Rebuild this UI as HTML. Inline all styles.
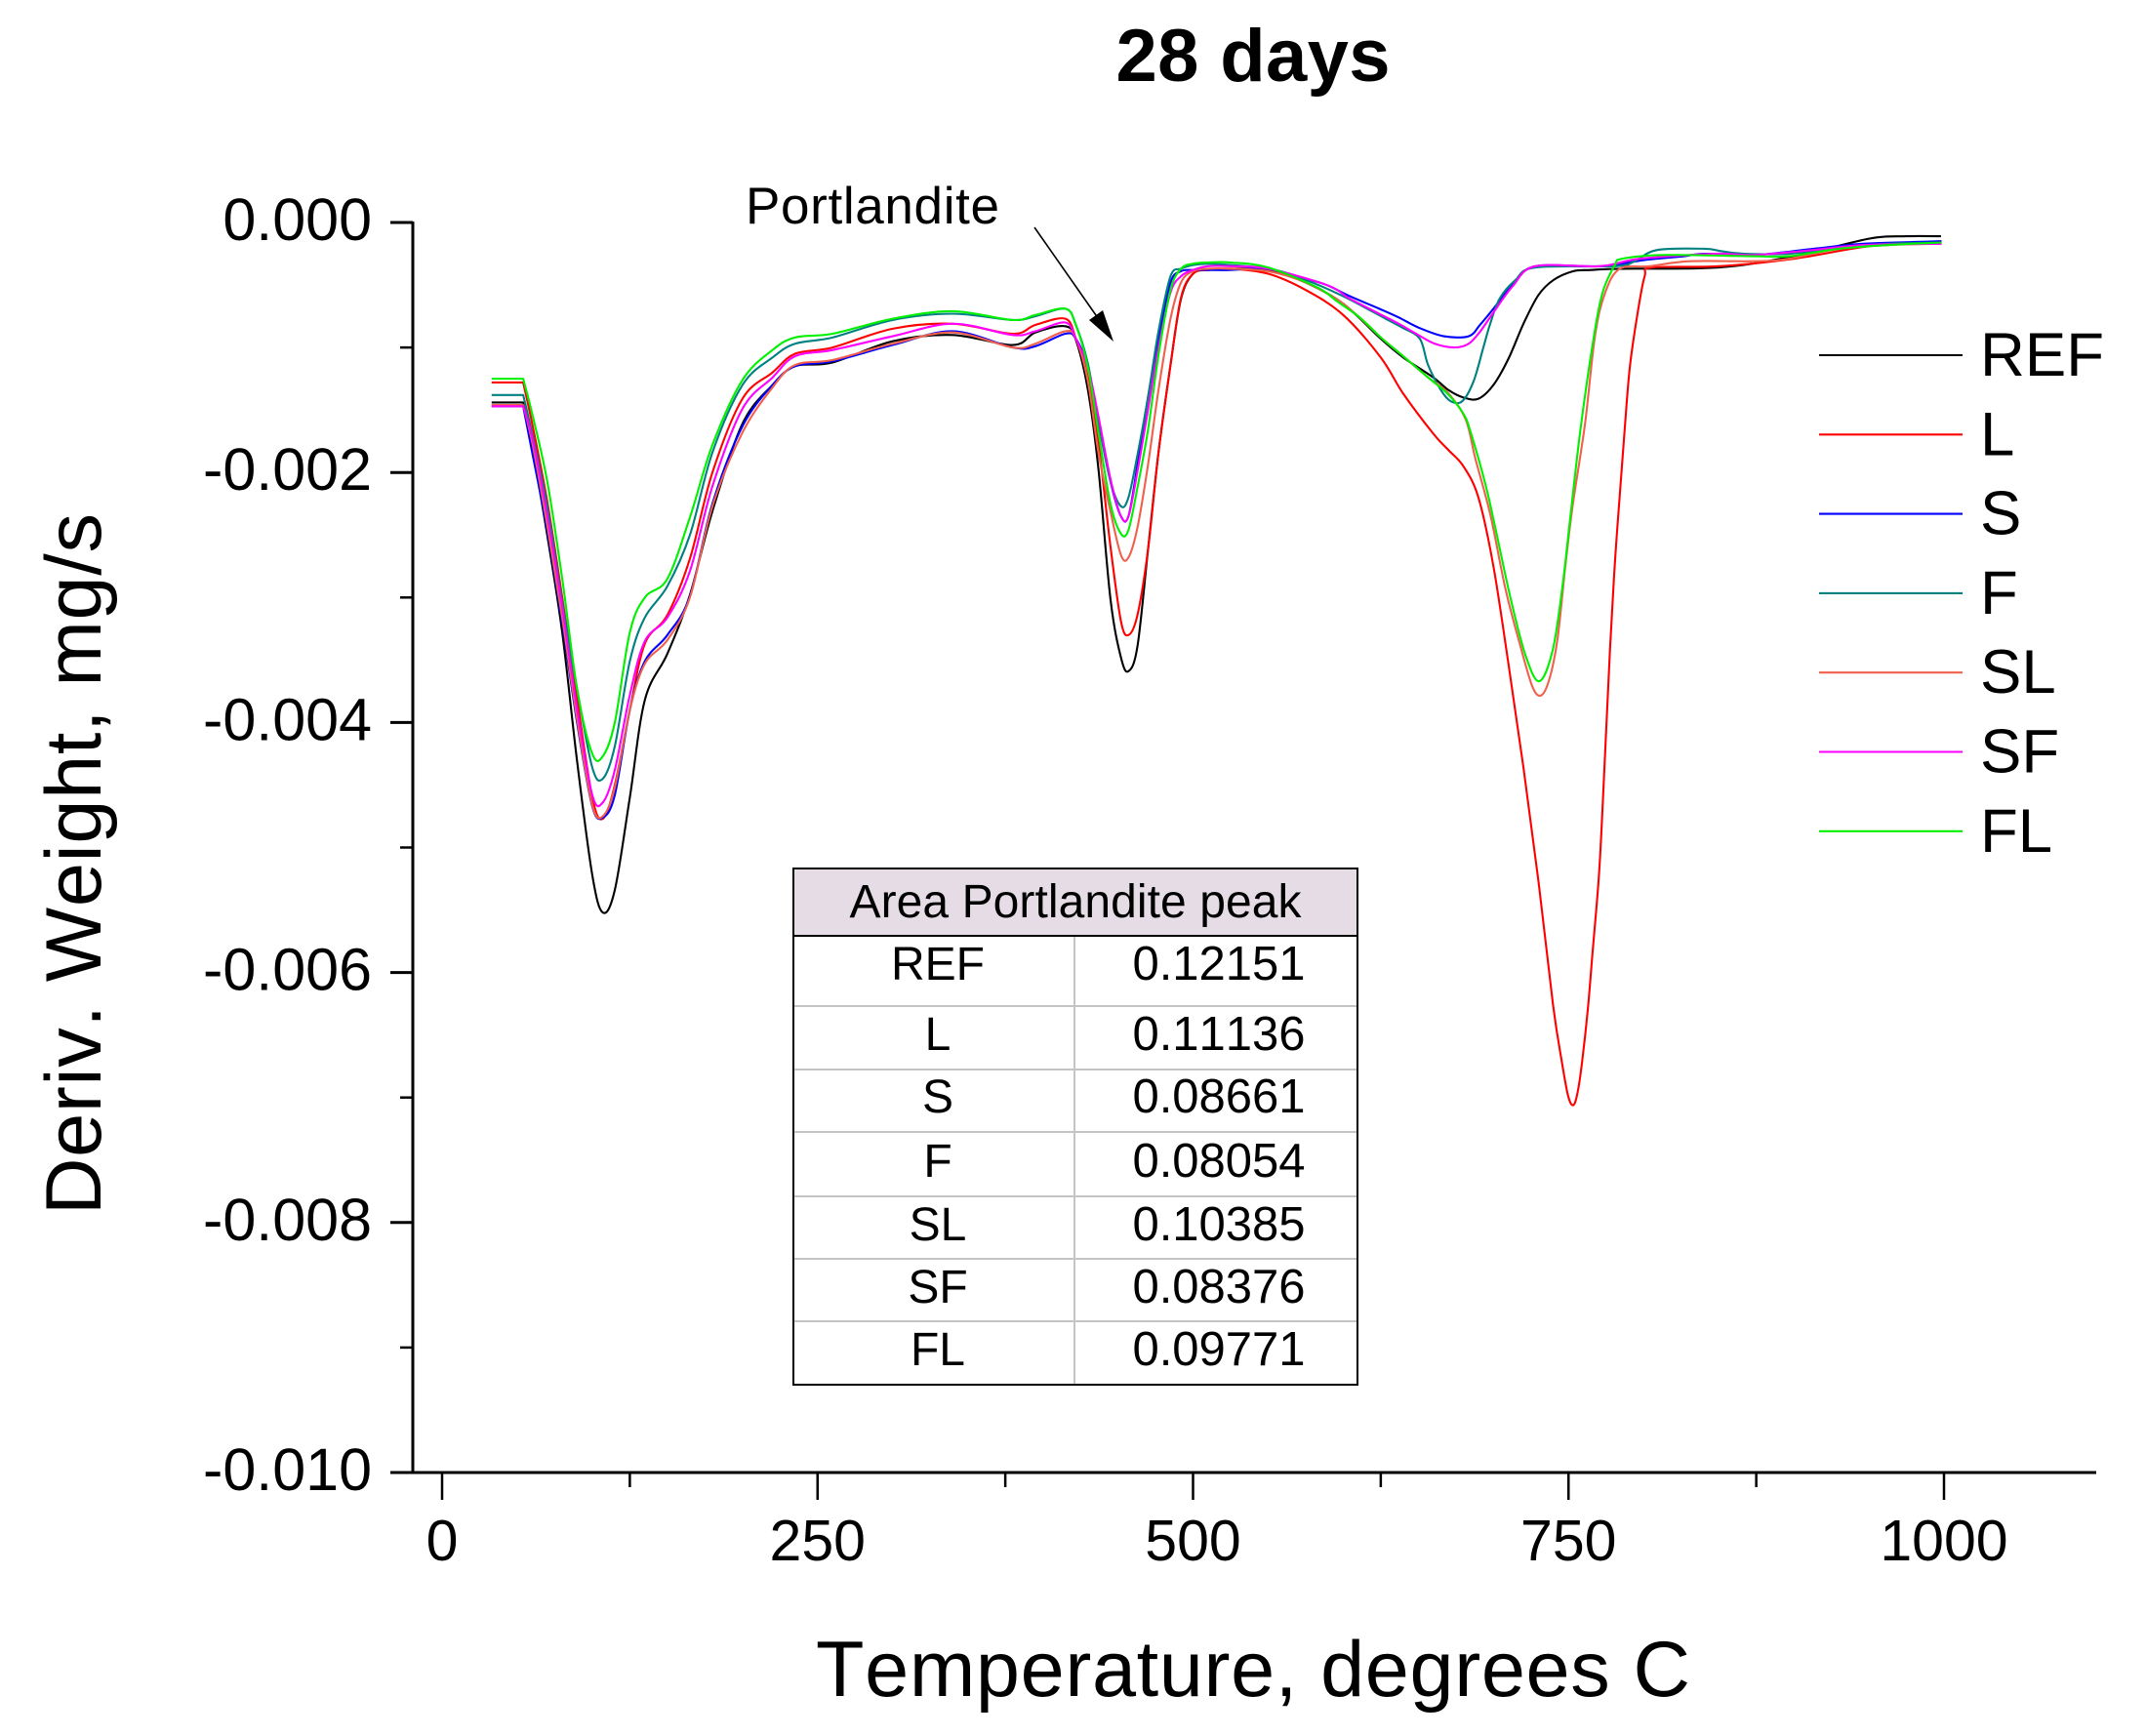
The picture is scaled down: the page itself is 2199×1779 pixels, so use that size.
<!DOCTYPE html>
<html lang="en">
<head>
<meta charset="utf-8">
<title>28 days</title>
<style>
html,body{margin:0;padding:0;background:#fff;}
svg{display:block;font-family:"Liberation Sans",sans-serif;fill:#000;font-kerning:none;}
</style>
</head>
<body>
<svg id="chart" width="2199" height="1779" viewBox="0 0 2199 1779" xmlns="http://www.w3.org/2000/svg">
<rect x="0" y="0" width="2199" height="1779" fill="#fff"/>
<text x="1284" y="83" font-size="76" font-weight="bold" text-anchor="middle" textLength="281">28 days</text>
<text x="1284" y="1738" font-size="81" text-anchor="middle" textLength="896">Temperature, degrees C</text>
<text transform="translate(103,1245) rotate(-90)" font-size="81" textLength="719">Deriv. Weight, mg/s</text>
<text x="764" y="229" font-size="53" textLength="260">Portlandite</text>
<line x1="1060" y1="233" x2="1130" y2="333" stroke="#000" stroke-width="1.6"/>
<polygon points="1141,350 1116,328 1130,318" fill="#000"/>
<g id="axes"></g>
<g id="series"></g>
<g id="legend"></g>
<g id="table"></g>
</svg>
<script>
// Temperature (deg C) shared by all series up to 550 deg C
const tempsShared = [33,54,60,70,80,90,100,107,115,125,135,150,165,180,200,220,235,260,300,340,380,395,415,422,430,437,445,452,457,463,470,477,485,492,500,510,525,550];

// Derivative weight in 10^-3 mg/s
const refShared = [-1.44,-1.44,-1.80,-2.50,-3.28,-4.32,-5.22,-5.52,-5.34,-4.60,-3.82,-3.45,-2.98,-2.31,-1.61,-1.30,-1.15,-1.12,-0.95,-0.90,-0.98,-0.88,-0.83,-0.94,-1.34,-1.97,-3.01,-3.48,-3.59,-3.39,-2.62,-1.84,-1.14,-0.61,-0.41,-0.38,-0.37,-0.38];
const refTailTemps = [575,600,625,640,660,670,680,690,700,710,720,730,740,753,765,785,850,900,950,975,998];
const refTailValues = [-0.48,-0.65,-0.93,-1.08,-1.24,-1.34,-1.40,-1.41,-1.30,-1.09,-0.81,-0.58,-0.46,-0.39,-0.38,-0.37,-0.36,-0.27,-0.13,-0.11,-0.11];

const lShared = [-1.28,-1.28,-1.61,-2.23,-3.00,-3.82,-4.60,-4.77,-4.50,-3.90,-3.37,-3.14,-2.69,-2.00,-1.41,-1.20,-1.05,-1.00,-0.85,-0.81,-0.89,-0.82,-0.77,-0.93,-1.24,-1.76,-2.59,-3.19,-3.30,-3.14,-2.62,-1.84,-1.14,-0.60,-0.41,-0.38,-0.37,-0.41];
const lTailTemps = [575,600,625,640,660,670,680,690,700,710,720,730,739.7,745.5,749.8,753.3,756.2,759.1,762.9,765.8,770.1,772.6,777.6,780.9,784.2,787.5,790.8,795.8,800.7,805.7,850,900,950,998];
const lTailValues = [-0.54,-0.74,-1.08,-1.37,-1.69,-1.82,-1.95,-2.20,-2.75,-3.53,-4.36,-5.27,-6.26,-6.71,-6.99,-7.06,-6.95,-6.71,-6.29,-5.87,-5.25,-4.70,-3.42,-2.72,-2.17,-1.64,-1.16,-0.74,-0.43,-0.36,-0.35,-0.29,-0.19,-0.15];

const sShared = [-1.47,-1.47,-1.84,-2.46,-3.20,-4.01,-4.67,-4.76,-4.58,-3.90,-3.51,-3.30,-2.99,-2.25,-1.63,-1.30,-1.15,-1.11,-0.98,-0.87,-1.00,-0.99,-0.89,-0.93,-1.16,-1.58,-2.07,-2.35,-2.35,-1.94,-1.40,-0.93,-0.48,-0.39,-0.38,-0.38,-0.38,-0.37];
const sTailTemps = [575,589,604.5,624,637,650,667,683.5,691,700,712.8,727.9,771,800.7,827,840.5,873.6,913.3,946.4,998.4];
const sTailValues = [-0.45,-0.50,-0.59,-0.69,-0.76,-0.84,-0.91,-0.91,-0.82,-0.69,-0.50,-0.35,-0.35,-0.30,-0.27,-0.25,-0.26,-0.21,-0.17,-0.15];

const fShared = [-1.38,-1.38,-1.69,-2.27,-3.04,-3.74,-4.36,-4.45,-4.19,-3.51,-3.16,-2.91,-2.50,-1.84,-1.30,-1.08,-0.97,-0.92,-0.78,-0.73,-0.78,-0.75,-0.69,-0.82,-1.13,-1.60,-2.07,-2.27,-2.20,-1.86,-1.40,-0.87,-0.43,-0.37,-0.34,-0.33,-0.34,-0.37];
const fTailTemps = [575,600,628.3,639.2,651,656.5,665,671.6,679.2,686.8,693.3,697.6,704.1,714.7,728,781,794,809,840.5,852,867,897,930,963,998.4];
const fTailValues = [-0.46,-0.59,-0.77,-0.84,-0.93,-1.14,-1.34,-1.43,-1.43,-1.27,-1.00,-0.82,-0.61,-0.46,-0.36,-0.35,-0.31,-0.22,-0.21,-0.23,-0.25,-0.25,-0.20,-0.17,-0.16];

const slShared = [-1.46,-1.46,-1.76,-2.42,-3.16,-3.98,-4.66,-4.75,-4.52,-3.90,-3.53,-3.34,-3.00,-2.27,-1.68,-1.32,-1.14,-1.10,-0.97,-0.88,-1.00,-0.97,-0.87,-0.93,-1.27,-1.84,-2.31,-2.66,-2.68,-2.44,-1.94,-1.34,-0.77,-0.48,-0.39,-0.37,-0.37,-0.39];
const slTailTemps = [575,600,626,639,656.5,669.5,681.5,688,698,708,718,726.2,732.2,737.8,742.8,747.8,752.7,761,767.6,774.3,784.2,804,830.5,873.6,896.8,930,963,998.4];
const slTailValues = [-0.48,-0.65,-0.93,-1.06,-1.24,-1.36,-1.575,-1.89,-2.34,-2.93,-3.39,-3.72,-3.78,-3.63,-3.32,-2.76,-2.27,-1.61,-0.91,-0.565,-0.37,-0.35,-0.31,-0.31,-0.29,-0.21,-0.18,-0.17];

const sfShared = [-1.47,-1.47,-1.72,-2.34,-3.08,-3.90,-4.58,-4.64,-4.38,-3.78,-3.35,-3.16,-2.79,-2.11,-1.49,-1.24,-1.07,-1.02,-0.91,-0.81,-0.90,-0.87,-0.80,-0.93,-1.16,-1.55,-2.05,-2.35,-2.35,-1.99,-1.50,-1.00,-0.56,-0.43,-0.38,-0.35,-0.35,-0.37];
const sfTailTemps = [589,604.5,624,637,650,661,674,683.5,691,700,712.8,727.9,771,797.4,847,873.6,913,946.4,998.4];
const sfTailValues = [-0.50,-0.61,-0.73,-0.81,-0.90,-0.97,-1.00,-0.97,-0.875,-0.72,-0.51,-0.35,-0.35,-0.29,-0.25,-0.26,-0.22,-0.18,-0.17];

const flShared = [-1.25,-1.25,-1.53,-2.07,-2.85,-3.74,-4.25,-4.27,-4.00,-3.28,-3.00,-2.85,-2.36,-1.78,-1.26,-1.02,-0.92,-0.89,-0.77,-0.71,-0.78,-0.74,-0.69,-0.82,-1.16,-1.68,-2.25,-2.49,-2.46,-2.12,-1.66,-1.06,-0.54,-0.37,-0.33,-0.32,-0.32,-0.36];
const flTailTemps = [582.8,595.8,611,626,639,656.5,669.5,680,684.9,694.8,701.4,711.3,721.3,730.5,739.5,746.1,751,757.7,766,772.6,780.9,785.8,814,873.6,896.8,930,963,998.4];
const flTailValues = [-0.52,-0.63,-0.76,-0.93,-1.06,-1.24,-1.37,-1.53,-1.68,-2.10,-2.45,-3.00,-3.46,-3.67,-3.42,-2.90,-2.38,-1.68,-0.98,-0.565,-0.34,-0.29,-0.26,-0.27,-0.27,-0.21,-0.18,-0.16];

// Axis tick labels
const xMajorTicks = [0,250,500,750,1000];
const xMinorTicks = [125,375,625,875];
const yMajorTicks = [0,-2,-4,-6,-8,-10];
const yMinorTicks = [-1,-3,-5,-7,-9];
const yTickLabels = ["0.000","-0.002","-0.004","-0.006","-0.008","-0.010"];

// Inset table
const tableNames = ["REF","L","S","F","SL","SF","FL"];
const tableAreas = ["0.12151","0.11136","0.08661","0.08054","0.10385","0.08376","0.09771"];

const seriesList = [
  {name:"REF", color:"#000000", temps:tempsShared.concat(refTailTemps), values:refShared.concat(refTailValues)},
  {name:"L",   color:"#ff0000", temps:tempsShared.concat(lTailTemps),   values:lShared.concat(lTailValues)},
  {name:"S",   color:"#0000ff", temps:tempsShared.concat(sTailTemps),   values:sShared.concat(sTailValues)},
  {name:"F",   color:"#008080", temps:tempsShared.concat(fTailTemps),   values:fShared.concat(fTailValues)},
  {name:"SL",  color:"#f0604c", temps:tempsShared.concat(slTailTemps),  values:slShared.concat(slTailValues)},
  {name:"SF",  color:"#ff00ff", temps:tempsShared.concat(sfTailTemps),  values:sfShared.concat(sfTailValues)},
  {name:"FL",  color:"#00f000", temps:tempsShared.concat(flTailTemps),  values:flShared.concat(flTailValues)}
];

const NS = "http://www.w3.org/2000/svg";
function xScale(t){ return 453 + t * 1.539; }
function yScale(v){ return 228 - v * 128.1; }

function make(parent, tag, attrs, text){
  const el = document.createElementNS(NS, tag);
  for (const k in attrs) el.setAttribute(k, attrs[k]);
  if (text !== undefined) el.textContent = text;
  parent.appendChild(el);
  return el;
}

// Straight flat start, then a Catmull-Rom spline from the corner onward
function smoothPath(temps, values){
  const p = temps.map((t,i)=>[xScale(t), yScale(values[i])]);
  let d = "M" + p[0][0].toFixed(2) + " " + p[0][1].toFixed(2) + "L" + p[1][0].toFixed(2) + " " + p[1][1].toFixed(2);
  for (let i = 1; i < p.length - 1; i++){
    const p0 = i === 1 ? p[i] : p[i-1], p1 = p[i], p2 = p[i+1], p3 = p[Math.min(i+2,p.length-1)];
    const c1x = p1[0] + (p2[0]-p0[0])/6, c1y = p1[1] + (p2[1]-p0[1])/6;
    const c2x = p2[0] - (p3[0]-p1[0])/6, c2y = p2[1] - (p3[1]-p1[1])/6;
    d += "C" + [c1x,c1y,c2x,c2y,p2[0],p2[1]].map(n=>n.toFixed(2)).join(" ");
  }
  return d;
}

// Axes
const axes = document.getElementById("axes");
const yLine = make(axes,"line",{x1:423,y1:yScale(0)-1,x2:423,y2:1510,stroke:"#000","stroke-width":3});


const xLine = make(axes,"line",{x1:423,y1:1509,x2:2148,y2:1509,stroke:"#000","stroke-width":3});



xMajorTicks.forEach(t=>{
  const tick = make(axes,"line",{x1:xScale(t),y1:1509,x2:xScale(t),y2:1537,stroke:"#000","stroke-width":2.5});
  
  
  const label = make(axes,"text",{x:xScale(t),y:1599,"font-size":59,"text-anchor":"middle"},String(t));
  
  
});
xMinorTicks.forEach(t=>{
  const tick = make(axes,"line",{x1:xScale(t),y1:1509,x2:xScale(t),y2:1524,stroke:"#000","stroke-width":2.5});
  
  
});
yMajorTicks.forEach((v,i)=>{
  const tick = make(axes,"line",{x1:400,y1:yScale(v),x2:423,y2:yScale(v),stroke:"#000","stroke-width":3});
  
  
  const label = make(axes,"text",{x:381,y:yScale(v)+18,"font-size":61,"text-anchor":"end"},yTickLabels[i]);
  
  
});
yMinorTicks.forEach(v=>{
  const tick = make(axes,"line",{x1:410,y1:yScale(v),x2:423,y2:yScale(v),stroke:"#000","stroke-width":2.5});
  
  
});

// Series lines
const seriesGroup = document.getElementById("series");
seriesList.forEach(s=>{
  const path = make(seriesGroup,"path",{d:smoothPath(s.temps,s.values),fill:"none",stroke:s.color,"stroke-width":2.1,"stroke-linejoin":"round"});
  
  
});

// Legend
const legend = document.getElementById("legend");
seriesList.forEach((s,i)=>{
  const rowY = 364 + i * 81.3;
  const key = make(legend,"line",{x1:1864,y1:rowY,x2:2011,y2:rowY,stroke:s.color,"stroke-width":2.1});
  
  
  const label = make(legend,"text",{x:2029,y:rowY+21,"font-size":63.5},s.name);
  
  
});

// Inset table
const table = document.getElementById("table");
const rowLines = [959,1031,1096,1160,1226,1290,1354,1419];
const rowBase = [1004,1076,1140,1206,1271,1335,1399];
const header = make(table,"rect",{x:813,y:890,width:578,height:69,fill:"#e6dce6"});


const body = make(table,"rect",{x:813,y:959,width:578,height:460,fill:"#fff"});


rowLines.slice(1,-1).forEach(y=>{
  const rule = make(table,"line",{x1:813,y1:y,x2:1391,y2:y,stroke:"#c4c4c4","stroke-width":2});
  
  
});
const colRule = make(table,"line",{x1:1101,y1:959,x2:1101,y2:1419,stroke:"#c4c4c4","stroke-width":2});


const headRule = make(table,"line",{x1:813,y1:959,x2:1391,y2:959,stroke:"#000","stroke-width":2});


const border = make(table,"rect",{x:813,y:890,width:578,height:529,fill:"none",stroke:"#000","stroke-width":2});


const headText = make(table,"text",{x:1102,y:940,"font-size":48,"text-anchor":"middle",textLength:463},"Area Portlandite peak");


tableNames.forEach((n,i)=>{
  const nameCell = make(table,"text",{x:961,y:rowBase[i],"font-size":48,"text-anchor":"middle"},n);
  
  
  const areaCell = make(table,"text",{x:1249,y:rowBase[i],"font-size":49,"text-anchor":"middle"},tableAreas[i]);
  
  
});
</script>
</body>
</html>
